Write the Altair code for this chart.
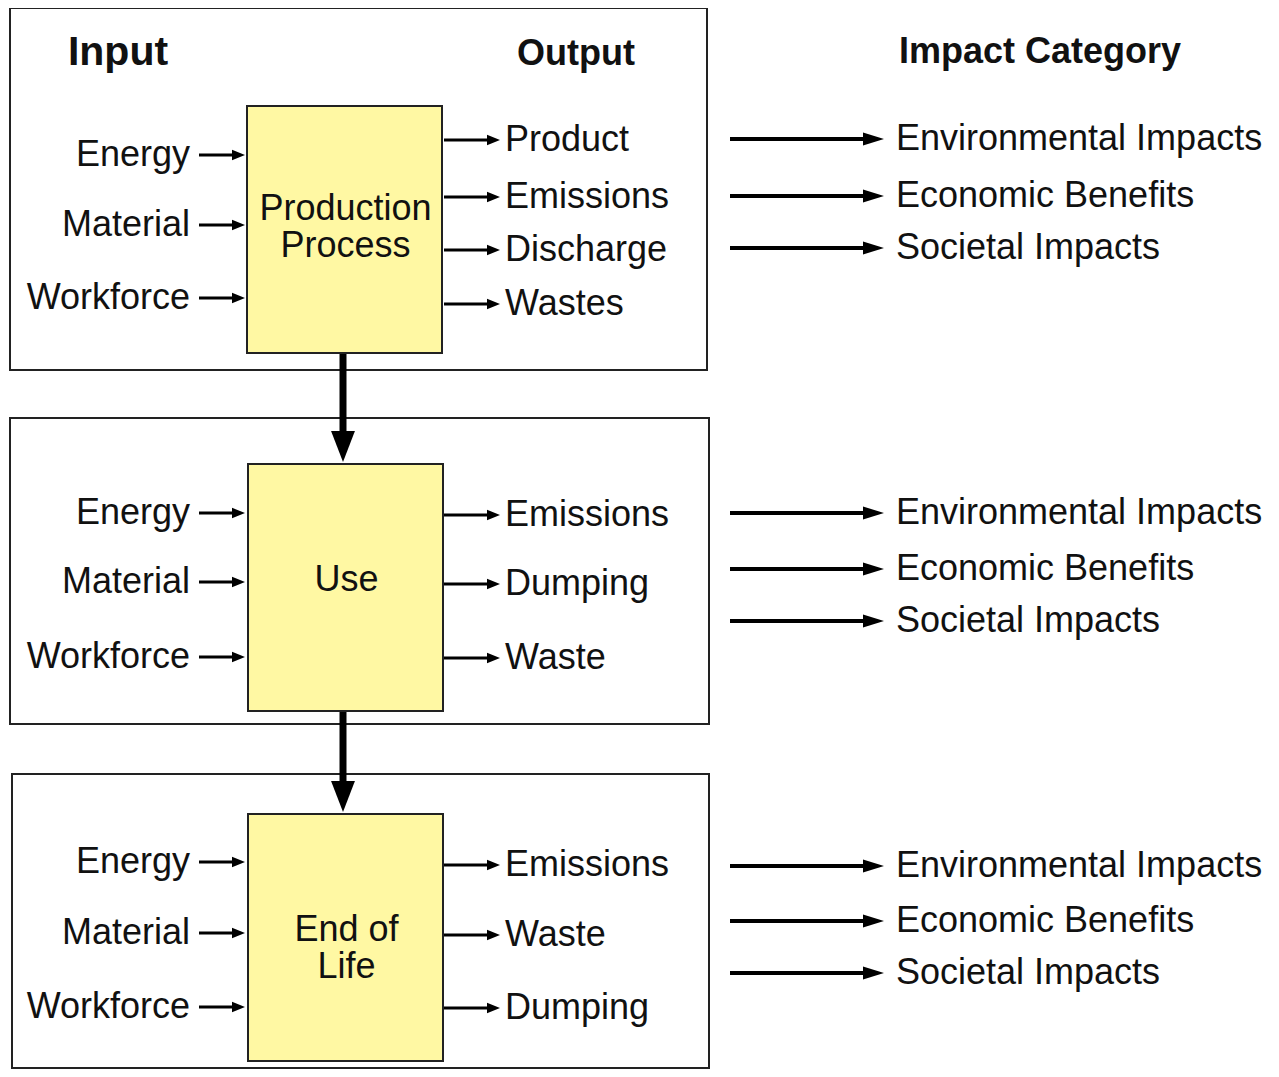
import altair as alt
import pandas as pd

# ---------------- content ----------------
headers = ["Input", "Output", "Impact Category"]
stages = ["Production\nProcess", "Use", "End of\nLife"]
inputs = ["Energy", "Material", "Workforce"]
outputs = [
    ["Product", "Emissions", "Discharge", "Wastes"],
    ["Emissions", "Dumping", "Waste"],
    ["Emissions", "Waste", "Dumping"],
]
impacts = ["Environmental Impacts", "Economic Benefits", "Societal Impacts"]

# ---------------- layout (pixel space of the figure) ----------------
W, H = 1263, 1061
FRAMES = [(10, 707, 8, 370), (10, 709, 418, 724), (12, 709, 774, 1068)]
PROC = [(247, 442, 106, 353), (248, 443, 464, 711), (248, 443, 814, 1061)]
STAGE_LABEL_Y = [209, 580, 930]   # y of first line
IN_Y = [[155, 225, 298], [513, 582, 657], [862, 933, 1007]]
OUT_Y = [[140, 197, 250, 304], [515, 584, 658], [865, 935, 1008]]
IMP_Y = [[139, 196, 248], [513, 569, 621], [866, 921, 973]]
HEADER_POS = [(118, 53, 41), (576, 54, 36), (1040, 52, 36)]
IN_TEXT_X, IN_ARROW = 190, (199, 245)
OUT_TEXT_X, OUT_ARROW = 505, (444, 500)
IMP_TEXT_X, IMP_ARROW = 896, (730, 884)
V_X = 343
FONT = "Liberation Sans"
FS = 36

xs = alt.Scale(domain=[8, 8 + W], range=[0, W], nice=False, zero=False)
ys = alt.Scale(domain=[8, 8 + H], range=[0, H], nice=False, zero=False)
X = lambda f="x": alt.X(f"{f}:Q", scale=xs, axis=None)
Y = lambda f="y": alt.Y(f"{f}:Q", scale=ys, axis=None)

# ---------------- tables ----------------
frames = pd.DataFrame([dict(x=a, x2=b, y=c, y2=d) for a, b, c, d in FRAMES])
procs = pd.DataFrame([dict(x=a, x2=b, y=c, y2=d) for a, b, c, d in PROC])
stage_lbl = pd.DataFrame([dict(x=(p[0] + p[1]) / 2 + 1, y=yy, t=s)
                          for p, yy, s in zip(PROC, STAGE_LABEL_Y, stages)])
hdr = pd.DataFrame([dict(x=x, y=y, s=s, t=t) for (x, y, s), t in zip(HEADER_POS, headers)])

in_rows, out_rows, imp_rows = [], [], []
for k in range(len(stages)):
    for name, yy in zip(inputs, IN_Y[k]):
        in_rows.append(dict(t=name, y=yy))
    for name, yy in zip(outputs[k], OUT_Y[k]):
        out_rows.append(dict(t=name, y=yy))
    for name, yy in zip(impacts, IMP_Y[k]):
        imp_rows.append(dict(t=name, y=yy))
in_df = pd.DataFrame(in_rows)
out_df = pd.DataFrame(out_rows)
imp_df = pd.DataFrame(imp_rows)

# small arrows (inputs & outputs)
SMALL_L = 13
small = []
for r in in_rows:
    small.append(dict(x=IN_ARROW[0], x2=IN_ARROW[1] - SMALL_L + 2, y=r["y"], hx=IN_ARROW[1] - SMALL_L / 2))
for r in out_rows:
    small.append(dict(x=OUT_ARROW[0], x2=OUT_ARROW[1] - SMALL_L + 2, y=r["y"], hx=OUT_ARROW[1] - SMALL_L / 2))
small_df = pd.DataFrame(small)

BIG_L = 21
big_df = pd.DataFrame([dict(x=IMP_ARROW[0], x2=IMP_ARROW[1] - BIG_L + 2, y=r["y"],
                            hx=IMP_ARROW[1] - BIG_L / 2) for r in imp_rows])

V_L = 31
vert = []
for k in range(len(PROC) - 1):
    top = PROC[k][3]
    tip = PROC[k + 1][2] - 2
    vert.append(dict(x=V_X, y=top, y2=tip - V_L + 2, hy=tip - V_L / 2))
vert_df = pd.DataFrame(vert)

# ---------------- marks ----------------
frame_layer = alt.Chart(frames).mark_rect(fill=None, stroke="#222", strokeWidth=2).encode(
    x=X(), x2="x2", y=Y(), y2="y2")
vshaft = alt.Chart(vert_df).mark_rule(color="black", strokeWidth=7).encode(x=X(), y=Y(), y2="y2")
vhead = alt.Chart(vert_df).mark_point(
    shape="M-0.77,-1L0.77,-1L0,1Z", filled=True, size=V_L ** 2, color="black", opacity=1, strokeWidth=0
).encode(x=X(), y=Y("hy"))
proc_layer = alt.Chart(procs).mark_rect(fill="#FFF8A3", stroke="#222", strokeWidth=2).encode(
    x=X(), x2="x2", y=Y(), y2="y2")
stage_text = alt.Chart(stage_lbl).mark_text(
    font=FONT, fontSize=FS, align="center", baseline="middle", lineBreak="\n", lineHeight=37, color="#111"
).encode(x=X(), y=Y(), text="t:N")
hdr_text = alt.Chart(hdr).mark_text(
    font=FONT, fontWeight="bold", align="center", baseline="middle", color="#111"
).encode(x=X(), y=Y(), text="t:N", size=alt.Size("s:Q", scale=None, legend=None))

in_text = alt.Chart(in_df).mark_text(font=FONT, fontSize=FS, align="right", baseline="middle", color="#111").encode(
    x=alt.value(IN_TEXT_X - 8), y=Y(), text="t:N")
out_text = alt.Chart(out_df).mark_text(font=FONT, fontSize=FS, align="left", baseline="middle", color="#111").encode(
    x=alt.value(OUT_TEXT_X - 8), y=Y(), text="t:N")
imp_text = alt.Chart(imp_df).mark_text(font=FONT, fontSize=FS, align="left", baseline="middle", color="#111").encode(
    x=alt.value(IMP_TEXT_X - 8), y=Y(), text="t:N")

sshaft = alt.Chart(small_df).mark_rule(color="black", strokeWidth=2.8).encode(x=X(), x2="x2", y=Y())
shead = alt.Chart(small_df).mark_point(
    shape="M-1,-0.8L1,0L-1,0.8Z", filled=True, size=SMALL_L ** 2, color="black", opacity=1, strokeWidth=0
).encode(x=X("hx"), y=Y())
bshaft = alt.Chart(big_df).mark_rule(color="black", strokeWidth=3.8).encode(x=X(), x2="x2", y=Y())
bhead = alt.Chart(big_df).mark_point(
    shape="M-1,-0.62L1,0L-1,0.62Z", filled=True, size=BIG_L ** 2, color="black", opacity=1, strokeWidth=0
).encode(x=X("hx"), y=Y())

chart = alt.layer(
    frame_layer, vshaft, vhead, proc_layer, stage_text, hdr_text,
    in_text, out_text, imp_text, sshaft, shead, bshaft, bhead
).properties(
    width=W, height=H, padding=0, autosize=alt.AutoSizeParams(type="none"), background="white"
).configure_view(stroke=None)

chart.save("out.html", embed_options={"renderer": "svg", "actions": False})
